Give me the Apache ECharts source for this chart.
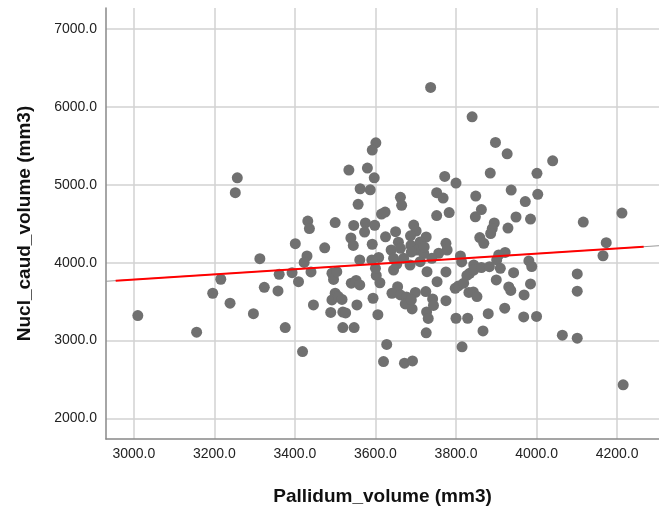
<!DOCTYPE html>
<html>
<head>
<meta charset="utf-8">
<script src="https://cdn.jsdelivr.net/npm/echarts@6/dist/echarts.min.js"></script>
<style>html,body{margin:0;padding:0;background:#fff}#c{width:659px;height:511px}</style>
</head>
<body>
<div id="c"></div>
<script>
const xTicks = [3000, 3200, 3400, 3600, 3800, 4000, 4200];
const yTicks = [2000, 3000, 4000, 5000, 6000, 7000];
const pallidum = [3010,3156,3196,3216,3239,3257,3252,3297,3313,3324,3361,3358,3376,3393,3409,3419,3401,3737,3840,3601,3592,3534,3580,3597,3772,3800,3562,3587,3752,3768,3849,3662,3665,3557,3615,3624,3752,3783,3848,3863,3432,3436,3500,3546,3575,3573,3598,3650,3695,3701,3726,3474,3539,3545,3592,3625,3657,3687,3688,3711,3775,3778,3430,3423,3561,3608,3639,3662,3703,3811,3859,3869,3895,3890,3886,3929,3949,3985,3937,3972,4003,3898,3927,4040,3885,4001,4116,4212,4173,4165,3981,3988,3922,3906,3901,3757,3740,3440,3446,3492,3496,3504,3489,3519,3526,3500,3492,3508,3517,3519,3547,3540,3552,3561,3554,3594,3606,3602,3611,3600,3591,3628,3620,3672,3692,3645,3653,3641,3655,3662,3677,3674,3691,3699,3689,3725,3727,3731,3726,3742,3744,3753,3775,3775,3798,3806,3819,3800,3829,3815,3814,3834,3827,3832,3843,3852,3867,3844,3844,3863,3883,3910,3900,3943,3931,3936,3985,3969,3921,3880,3968,4000,4101,4101,4064,4101,4215,3689,3720,3686,3711,3728,3670,3645,3721];
const nuclCaud = [3320,3107,3607,3787,3479,5091,4899,3345,4051,3684,3851,3637,3166,3872,3756,2858,4244,6252,5874,5540,5447,5190,5216,5091,5109,5023,4950,4937,4899,4831,4856,4840,4737,4750,4625,4651,4606,4644,4590,4683,4535,4439,4516,4478,4510,4394,4481,4398,4484,4407,4330,4191,4317,4221,4237,4332,4263,4345,4221,4266,4249,4163,4086,4003,4035,4067,4163,4185,4163,4086,4323,4249,4510,4439,4375,4445,4587,4561,4933,4786,4878,5546,5399,5309,5151,5148,4522,4638,4257,4089,4022,3951,4131,4099,4035,4121,4056,3881,3457,3864,3784,3884,3361,3365,3354,3607,3521,3564,3528,3166,3166,3736,3771,3714,3457,3543,3332,3836,3742,3928,4035,2950,2729,2709,2738,3906,3983,3607,3692,3585,3560,3470,3406,3617,3521,3628,3367,3284,3098,3534,3451,3756,3881,3512,3671,3701,3736,3286,3286,2918,4009,3864,3836,3617,3624,3564,3123,3970,3906,3938,3949,3928,3778,3872,3688,3643,3727,3585,3415,3345,3303,3309,3855,3633,3068,3030,2430,4137,4118,3970,4013,3884,4056,4056,4202];
const fitX = [2955, 4266];
const fitY = [3769, 4205];
const fullX = [2931, 4304];
const fullY = [3761, 4218];

const points = pallidum.map((x, i) => [x, nuclCaud[i]]);
const chart = echarts.init(document.getElementById('c'), null, {renderer: 'canvas'});
chart.setOption({
  animation: false,
  backgroundColor: '#ffffff',
  grid: {left: 106, right: 0, top: 8, bottom: 72, containLabel: false},
  xAxis: {
    type: 'value', min: 2931, max: 4304,
    name: 'Pallidum_volume (mm3)', nameLocation: 'middle', nameGap: 48,
    nameTextStyle: {fontFamily: 'Liberation Sans', fontSize: 19, fontWeight: 'bold', color: '#111'},
    axisLine: {show: true, lineStyle: {color: '#888', width: 1.5}},
    axisTick: {show: false, customValues: xTicks},
    axisLabel: {customValues: xTicks, formatter: v => v.toFixed(1), fontFamily: 'Liberation Sans', fontSize: 14, color: '#222', margin: 8},
    splitLine: {show: true, lineStyle: {color: '#d2d2d2', width: 1.5}}
  },
  yAxis: {
    type: 'value', min: 1734, max: 7273,
    name: 'Nucl_caud_volume (mm3)', nameLocation: 'middle', nameGap: 72,
    nameTextStyle: {fontFamily: 'Liberation Sans', fontSize: 19, fontWeight: 'bold', color: '#111'},
    axisLine: {show: true, lineStyle: {color: '#888', width: 1.5}},
    axisTick: {show: false, customValues: yTicks},
    axisLabel: {customValues: yTicks, formatter: v => v.toFixed(1), fontFamily: 'Liberation Sans', fontSize: 14, color: '#222', margin: 9},
    splitLine: {show: true, lineStyle: {color: '#d2d2d2', width: 1.5}}
  },
  series: [
    {type: 'scatter', data: points, symbolSize: 11, itemStyle: {color: '#707070', opacity: 1}, z: 2},
    {type: 'line', data: fullX.map((x, i) => [x, fullY[i]]), symbol: 'none', lineStyle: {color: '#999', width: 1}, z: 3},
    {type: 'line', data: fitX.map((x, i) => [x, fitY[i]]), symbol: 'none', lineStyle: {color: '#ff0000', width: 2}, z: 4}
  ]
});
</script>
</body>
</html>
